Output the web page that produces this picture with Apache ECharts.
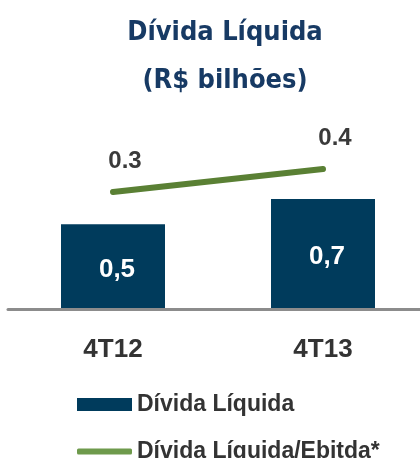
<!DOCTYPE html>
<html lang="pt">
<head>
<meta charset="UTF-8">
<script src="https://cdn.jsdelivr.net/npm/echarts@6/dist/echarts.min.js"></script>
<style>
  html, body { margin: 0; padding: 0; background: #fff; }
  #main { width: 420px; height: 458px; }
</style>
</head>
<body>
<div id="main"></div>
<script>
// dados
var categorias = ['4T12', '4T13'];
var dividaLiquida = [0.54, 0.70];        // R$ bilhões
var dividaEbitda = [0.3, 0.4];           // x
var nomes = ['Dívida Líquida', 'Dívida Líquida/Ebitda*'];

var myChart = echarts.init(document.getElementById('main'));

var legendText = {
    fontFamily: "'Liberation Sans', Arial",
    fontWeight: 'bold',
    fontSize: 23,
    lineHeight: 22,
    color: '#333'
};

var option = {
    backgroundColor: '#fff',
    animation: false,
    title: {
        text: 'Dívida Líquida\n(R$ bilhões)',
        left: 220,
        textAlign: 'center',
        top: 4,
        textStyle: {
            fontFamily: "'DejaVu Sans Condensed', 'DejaVu Sans'",
            fontWeight: 'bold',
            fontSize: 27,
            lineHeight: 48,
            color: '#173a64'
        }
    },
    legend: [
        {
            left: 72,
            top: 388,
            itemWidth: 55,
            itemHeight: 13,
            itemGap: 10,
            icon: 'rect',
            data: [nomes[0]],
            textStyle: legendText
        },
        {
            left: 72,
            top: 435,
            itemWidth: 55,
            itemHeight: 6,
            icon: 'roundRect',
            itemStyle: { color: '#6e9a4c' },
            data: [nomes[1]],
            textStyle: legendText
        }
    ],
    grid: { left: 8, width: 420, top: 100, bottom: 149, outerBoundsMode: 'none' },
    xAxis: {
        type: 'category',
        data: categorias,
        axisTick: { show: false },
        axisLine: { lineStyle: { color: '#8c8c8c', width: 3 } },
        axisLabel: {
            margin: 28,
            fontFamily: "'Liberation Sans', Arial",
            fontWeight: 'bold',
            fontSize: 26,
            color: '#333'
        },
        z: 5
    },
    yAxis: [
        { type: 'value', min: 0, max: 1.33, show: false, splitLine: { show: false } },
        { type: 'value', min: -0.2087, max: 0.7, show: false, splitLine: { show: false } }
    ],
    series: [
        {
            name: nomes[0],
            type: 'bar',
            data: dividaLiquida,
            barWidth: 104,
            itemStyle: { color: '#003b5c' },
            label: {
                show: true,
                position: 'inside',
                offset: [4, 3],
                formatter: function (p) { return p.value.toFixed(1).replace('.', ','); },
                fontFamily: "'Liberation Sans', Arial",
                fontWeight: 'bold',
                fontSize: 26,
                color: '#fff'
            }
        },
        {
            name: nomes[1],
            type: 'line',
            yAxisIndex: 1,
            data: dividaEbitda,
            symbol: 'circle',
            symbolSize: 2,
            showSymbol: true,
            lineStyle: { color: '#5a8034', width: 6, cap: 'round' },
            itemStyle: { color: '#5a8034' },
            label: {
                show: true,
                position: 'top',
                distance: 18,
                offset: [12, 0],
                formatter: function (p) { return p.value.toFixed(1); },
                fontFamily: "'Liberation Sans', Arial",
                fontWeight: 'bold',
                fontSize: 24,
                color: '#3a3a3a'
            },
            z: 3
        }
    ]
};

myChart.setOption(option);
</script>
</body>
</html>
